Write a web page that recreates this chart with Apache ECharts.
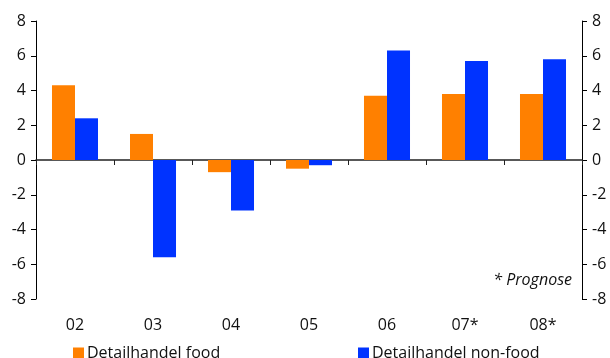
<!DOCTYPE html>
<html>
<head>
<meta charset="utf-8">
<script src="https://cdn.jsdelivr.net/npm/echarts@6/dist/echarts.min.js"></script>
<style>
  html, body { margin: 0; padding: 0; background: #fff; }
  #chart { width: 610px; height: 358px; }
</style>
</head>
<body>
<div id="chart"></div>
<script>
// Year labels (starred years are forecasts)
const categories = ['02', '03', '04', '05', '06', '07*', '08*'];
// Annual change, per cent
const foodValues = [4.3, 1.5, -0.7, -0.5, 3.7, 3.8, 3.8];
const nonFoodValues = [2.4, -5.6, -2.9, -0.3, 6.3, 5.7, 5.8];
const seriesNames = ['Detailhandel food', 'Detailhandel non-food'];
const footnote = '* Prognose';

const FONT = 'Open Sans';
const FONT_SIZE = 16;
const TEXT = '#111';

const chart = echarts.init(document.getElementById('chart'), null, { renderer: 'canvas' });

const valueAxis = (position) => ({
  type: 'value',
  position: position,
  min: -8,
  max: 8,
  interval: 2,
  splitLine: { show: false },
  axisLine: { show: true, lineStyle: { color: '#000', width: 1 } },
  axisTick: { show: true, inside: false, length: 5, lineStyle: { color: '#000' } },
  axisLabel: { margin: 10, color: TEXT, fontFamily: FONT, fontSize: FONT_SIZE }
});

const legendBlock = (name, left) => ({
  data: [name],
  left: left, top: 340,
  itemWidth: 11, itemHeight: 11, itemGap: 0,
  icon: 'rect',
  textStyle: { color: TEXT, fontFamily: FONT, fontSize: FONT_SIZE, padding: [0, 0, 0, -2] }
});

chart.setOption({
  animation: false,
  backgroundColor: '#fff',
  grid: { left: 36, right: 28, top: 21, bottom: 59, containLabel: false },
  legend: [legendBlock(seriesNames[0], 68), legendBlock(seriesNames[1], 353)],
  xAxis: [
    {
      type: 'category',
      data: categories,
      position: 'bottom',
      axisLine: { show: false, onZero: false },
      axisTick: { show: false },
      axisLabel: { margin: 18, color: TEXT, fontFamily: FONT, fontSize: FONT_SIZE }
    },
    {
      type: 'category',
      data: categories,
      position: 'bottom',
      axisLine: { show: true, onZero: true, lineStyle: { color: '#222', width: 1.5 } },
      axisTick: { show: true, length: 5, lineStyle: { color: '#222' } },
      axisLabel: { show: false }
    }
  ],
  yAxis: [valueAxis('left'), valueAxis('right')],
  graphic: [
    {
      type: 'text',
      right: 38,
      top: 272,
      style: {
        text: footnote,
        font: 'italic 16px "Open Sans"',
        fill: TEXT
      }
    }
  ],
  series: [
    {
      name: seriesNames[0],
      type: 'bar',
      xAxisIndex: 0,
      yAxisIndex: 0,
      data: foodValues,
      barGap: '0%',
      barCategoryGap: '41%',
      itemStyle: { color: '#ff8000' }
    },
    {
      name: seriesNames[1],
      type: 'bar',
      xAxisIndex: 0,
      yAxisIndex: 0,
      data: nonFoodValues,
      barGap: '0%',
      barCategoryGap: '41%',
      itemStyle: { color: '#0033ff' }
    }
  ]
});
</script>
</body>
</html>
